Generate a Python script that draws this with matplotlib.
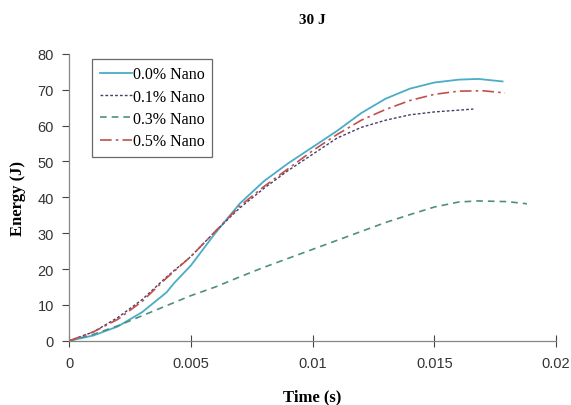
import numpy as np
import matplotlib.pyplot as plt

# Time (s) and Energy (J)
t_00 = [0, 0.001, 0.002, 0.003, 0.004, 0.0043, 0.005, 0.006, 0.007, 0.008, 0.009,
        0.010, 0.011, 0.012, 0.013, 0.014, 0.015, 0.016, 0.0168, 0.0178]
e_00 = [0, 1.5, 4, 8, 13.5, 16, 21, 30, 38.2, 44.5, 49.5,
        54, 58.5, 63.5, 67.5, 70.3, 72, 72.8, 73, 72.3]

t_01 = [0, 0.001, 0.002, 0.003, 0.004, 0.005, 0.006, 0.007, 0.008, 0.009,
        0.010, 0.011, 0.012, 0.013, 0.014, 0.015, 0.016, 0.0166]
e_01 = [0, 2.5, 6.5, 11.5, 17.8, 23.5, 30.5, 37, 42.5, 47.5,
        52, 56.5, 59.5, 61.5, 63, 63.8, 64.3, 64.6]

t_03 = [0, 0.001, 0.002, 0.003, 0.004, 0.005, 0.006, 0.007, 0.008, 0.009,
        0.010, 0.011, 0.012, 0.013, 0.014, 0.015, 0.016, 0.0168, 0.018, 0.0188]
e_03 = [0, 1.8, 4.2, 7, 9.8, 12.6, 15, 17.8, 20.5, 23,
        25.5, 28, 30.5, 33, 35.2, 37.3, 38.7, 39, 38.8, 38.2]

t_05 = [0, 0.001, 0.002, 0.003, 0.004, 0.005, 0.006, 0.007, 0.008, 0.009,
        0.010, 0.011, 0.012, 0.013, 0.014, 0.015, 0.016, 0.017, 0.0179]
e_05 = [0, 2.5, 6, 11, 17.5, 23.5, 30.5, 37.5, 43, 48,
        53, 57.5, 61.5, 64.5, 67, 68.7, 69.6, 69.7, 69.1]

labels = ["0.0% Nano", "0.1% Nano", "0.3% Nano", "0.5% Nano"]

fig = plt.figure(figsize=(5.71, 4.06), dpi=100)
ax = fig.add_axes([0.121, 0.158, 0.853, 0.707])

ax.plot(t_00, e_00, color="#4bacc6", lw=1.3, label=labels[0])
ax.plot(t_01, e_01, color="#4a3a66", lw=1.0, dashes=(2, 1.5), label=labels[1])
ax.plot(t_03, e_03, color="#4f8f82", lw=1.2, dashes=(4, 3), label=labels[2])
ax.plot(t_05, e_05, color="#c0504d", lw=1.2, dashes=(7, 2.5, 1.5, 2.5), label=labels[3])

ax.set_xlim(0, 0.02)
ax.set_ylim(0, 80)
ax.set_xticks([0, 0.005, 0.01, 0.015, 0.02])
ax.set_xticklabels(["0", "0.005", "0.01", "0.015", "0.02"])
ax.set_yticks(np.arange(0, 81, 10))

for s in ["top", "right"]:
    ax.spines[s].set_visible(False)
for s in ["left", "bottom"]:
    ax.spines[s].set_color("#868686")
    ax.spines[s].set_linewidth(0.9)

ax.tick_params(axis="y", direction="out", length=5, color="#444444",
               labelsize=10.5, labelcolor="#333333", pad=6)
ax.tick_params(axis="x", direction="inout", length=8, color="#444444",
               labelsize=10.5, labelcolor="#333333", pad=7)
for lab in ax.get_xticklabels() + ax.get_yticklabels():
    lab.set_family("Liberation Sans")

serif = "Liberation Serif"
ax.set_title("30 J", family=serif, fontweight="bold", fontsize=11, pad=22)
ax.set_xlabel("Time (s)", family=serif, fontweight="bold", fontsize=12, labelpad=13)
ax.set_ylabel("Energy (J)", family=serif, fontweight="bold", fontsize=12, labelpad=8)

leg = ax.legend(loc="upper left", bbox_to_anchor=(0.048, 0.982),
                prop={"family": serif, "size": 11.5}, frameon=True, fancybox=False,
                handlelength=2.0, handletextpad=0.1, borderpad=0.45, labelspacing=0.4,
                borderaxespad=0)
leg.get_frame().set_edgecolor("#444444")
leg.get_frame().set_linewidth(0.9)

fig.savefig("out.png", dpi=100)
